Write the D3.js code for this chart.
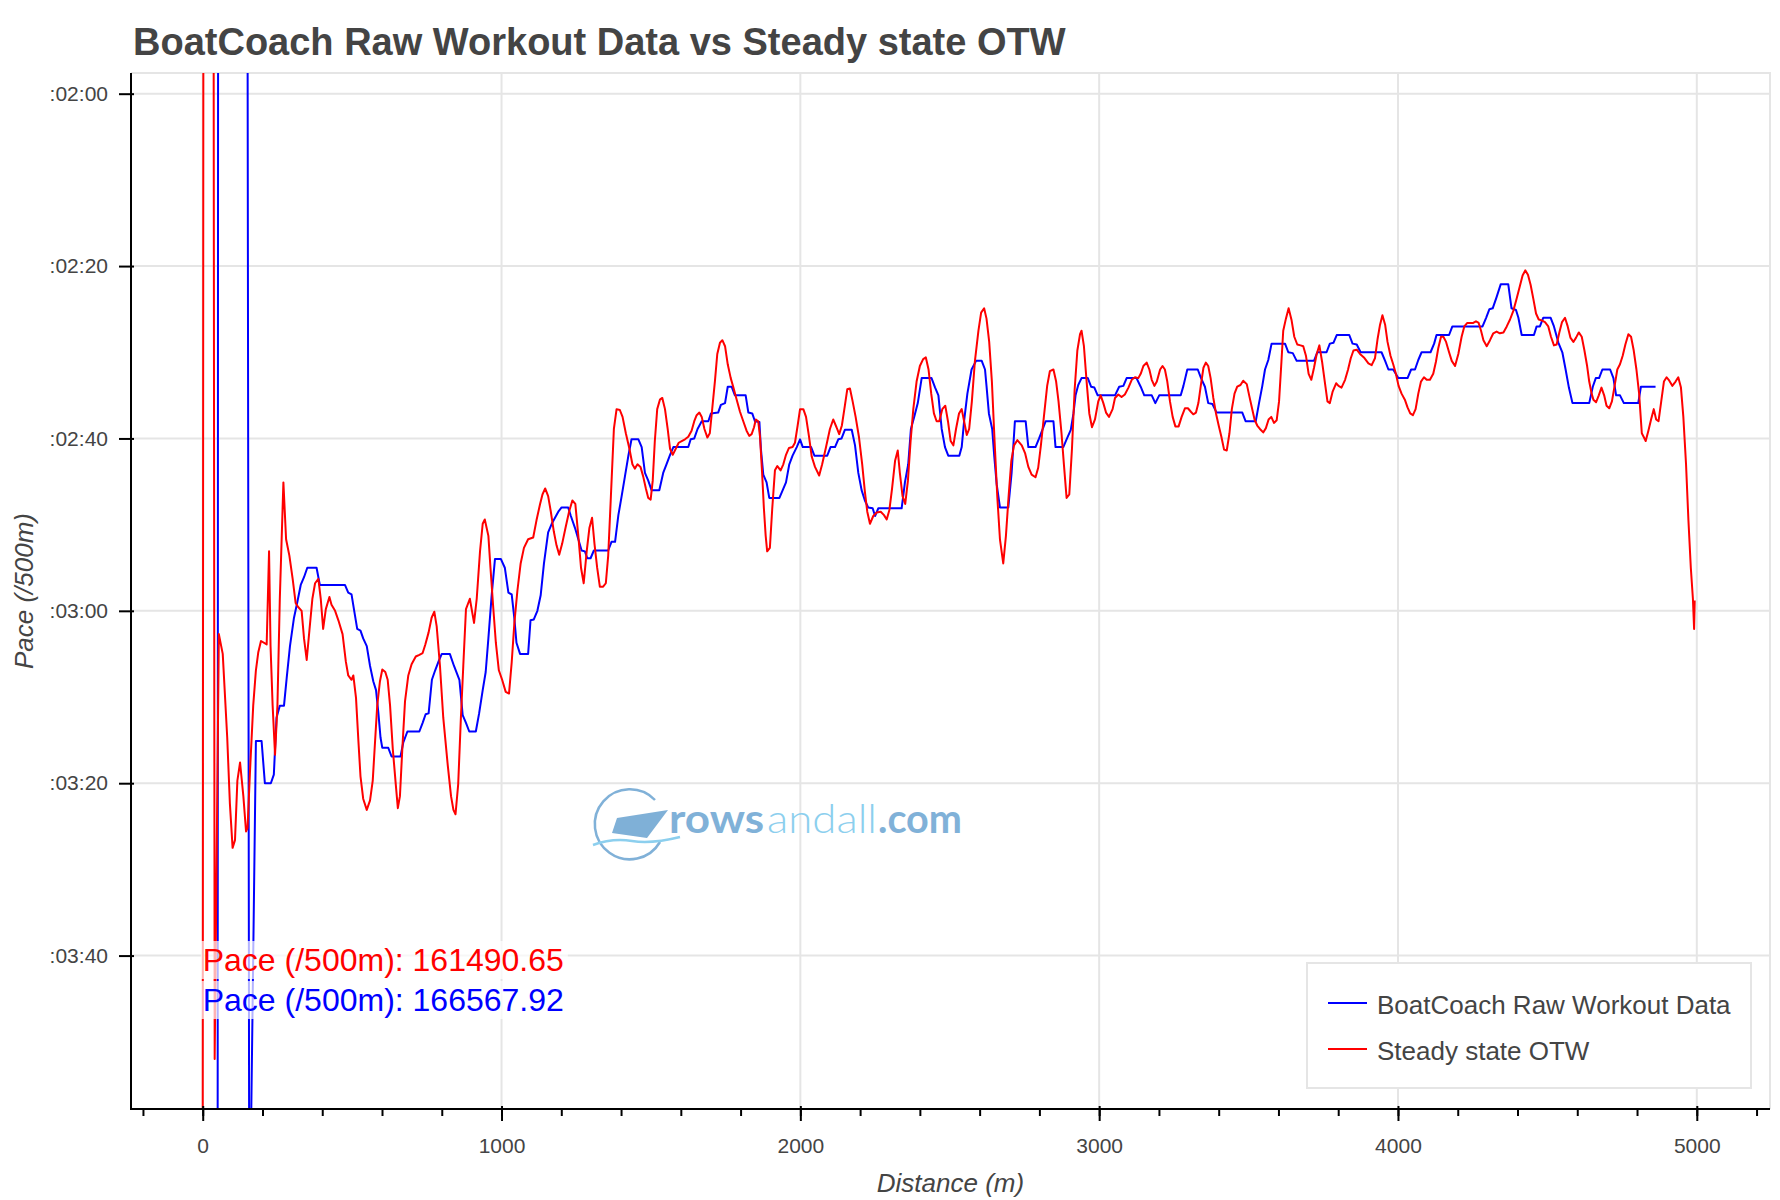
<!DOCTYPE html>
<html>
<head>
<meta charset="utf-8">
<script src="https://cdn.jsdelivr.net/npm/d3@7"></script>
<style>
  body { margin: 0; background: #fff; }
  text { font-family: "Liberation Sans", Arial, Helvetica, sans-serif; }
</style>
</head>
<body>
<svg id="chart" width="1780" height="1200"></svg>
<script>
var TITLE = "BoatCoach Raw Workout Data vs Steady state OTW";
var X_LABEL = "Distance (m)";
var Y_LABEL = "Pace (/500m)";
var SERIES_NAMES = ["BoatCoach Raw Workout Data", "Steady state OTW"];
var SERIES_COLORS = ["blue", "red"];
var HOVER_TEXTS = ["Pace (/500m): 161490.65", "Pace (/500m): 166567.92"];

var xTicks = [0, 1000, 2000, 3000, 4000, 5000];
var yTicks = [120, 140, 160, 180, 200, 220];

// Steady state OTW (red) - distance in m, pace in s/500m (first points are off the chart)
var redDist = [0, 3, 35, 40, 54, 67, 82, 91, 100, 108, 116, 125, 136, 145, 150, 158, 169, 178, 186, 195,
  214, 222, 227, 234, 242, 250, 258, 270, 279, 290, 301, 311, 318, 331, 339, 348, 357, 367, 376, 387,
  395, 403, 412, 424, 431, 443, 454, 468, 479, 487, 498, 504, 513, 521, 528, 537, 549, 560, 569, 576,
  584, 593, 601, 611, 619, 627, 636, 646, 653, 660, 668, 677, 688, 699, 713, 725, 736, 745, 756, 766,
  775, 783, 794, 805, 820, 831, 839, 846, 855, 864, 872, 881, 894, 908, 917, 928, 937, 944, 956, 963,
  972, 981, 991, 1002, 1014, 1025, 1034, 1043, 1053, 1064, 1075, 1089, 1106, 1117, 1129, 1137, 1146, 1156, 1165, 1175,
  1184, 1193, 1203, 1214, 1226, 1237, 1247, 1257, 1266, 1275, 1285, 1294, 1303, 1311, 1320, 1329, 1340, 1349, 1357, 1366,
  1376, 1385, 1396, 1405, 1416, 1428, 1438, 1446, 1455, 1465, 1474, 1483, 1491, 1499, 1506, 1513, 1521, 1530, 1538, 1547,
  1556, 1564, 1573, 1583, 1593, 1603, 1614, 1625, 1636, 1645, 1653, 1662, 1670, 1679, 1689, 1697, 1705, 1714, 1722, 1731,
  1739, 1748, 1757, 1767, 1776, 1787, 1798, 1809, 1820, 1829, 1837, 1845, 1851, 1859, 1865, 1872, 1878, 1884, 1889, 1898,
  1906, 1915, 1923, 1934, 1943, 1952, 1962, 1974, 1982, 1991, 1999, 2010, 2019, 2029, 2038, 2049, 2063, 2073, 2086, 2099,
  2110, 2121, 2130, 2139, 2149, 2157, 2166, 2175, 2185, 2196, 2207, 2216, 2224, 2233, 2244, 2255, 2269, 2280, 2289, 2298,
  2307, 2317, 2326, 2333, 2342, 2351, 2360, 2369, 2378, 2389, 2400, 2411, 2420, 2429, 2438, 2447, 2456, 2465, 2475, 2485,
  2494, 2503, 2512, 2521, 2531, 2540, 2548, 2557, 2565, 2574, 2584, 2596, 2605, 2615, 2623, 2632, 2641, 2650, 2659, 2668,
  2679, 2688, 2697, 2706, 2715, 2726, 2741, 2752, 2763, 2774, 2787, 2796, 2805, 2815, 2826, 2835, 2847, 2856, 2864, 2874,
  2882, 2891, 2900, 2909, 2918, 2927, 2936, 2941, 2949, 2958, 2967, 2976, 2986, 2997, 3005, 3014, 3023, 3033, 3045, 3053,
  3064, 3075, 3086, 3098, 3109, 3120, 3131, 3139, 3148, 3159, 3168, 3176, 3185, 3193, 3204, 3212, 3220, 3228, 3237, 3246,
  3255, 3266, 3276, 3287, 3297, 3307, 3315, 3324, 3332, 3340, 3349, 3357, 3365, 3373, 3382, 3391, 3400, 3409, 3418, 3427,
  3436, 3444, 3453, 3462, 3473, 3482, 3494, 3502, 3511, 3520, 3529, 3538, 3549, 3558, 3567, 3576, 3585, 3594, 3602, 3610,
  3616, 3625, 3634, 3644, 3653, 3663, 3674, 3683, 3692, 3701, 3710, 3719, 3728, 3737, 3746, 3755, 3764, 3772, 3781, 3793,
  3801, 3811, 3823, 3833, 3842, 3851, 3862, 3873, 3886, 3901, 3912, 3923, 3932, 3940, 3948, 3957, 3965, 3975, 3984, 3993,
  4002, 4012, 4023, 4032, 4041, 4050, 4059, 4068, 4077, 4087, 4096, 4107, 4118, 4127, 4135, 4144, 4152, 4161, 4171, 4180,
  4191, 4202, 4213, 4222, 4232, 4243, 4252, 4261, 4270, 4278, 4286, 4297, 4308, 4319, 4330, 4341, 4353, 4364, 4375, 4386,
  4397, 4408, 4417, 4426, 4435, 4444, 4453, 4462, 4471, 4481, 4492, 4503, 4512, 4522, 4531, 4540, 4549, 4559, 4568, 4577,
  4587, 4596, 4605, 4615, 4624, 4633, 4640, 4648, 4654, 4663, 4672, 4681, 4690, 4698, 4707, 4716, 4725, 4734, 4743, 4752,
  4761, 4771, 4780, 4789, 4798, 4807, 4816, 4822, 4829, 4838, 4847, 4856, 4864, 4872, 4881, 4890, 4899, 4908, 4918, 4929,
  4938, 4947, 4955, 4964, 4972, 4980, 4987, 4991, 4993];
var redPace = [245, 60, 60, 232, 182.7, 185.0, 194.7, 202.4, 207.5, 206.6, 199.7, 197.6, 201.5, 205.6, 205.2, 198.8, 191.0, 186.9, 184.8, 183.5,
  183.9, 173.1, 184.1, 191.0, 196.7, 191.0, 178.6, 165.1, 171.7, 173.6, 176.3, 179.1, 179.5, 180.0, 183.2, 185.7, 182.3, 178.6, 176.8, 176.3,
  178.6, 182.1, 179.8, 178.4, 179.3, 180.0, 181.1, 182.7, 185.9, 187.5, 188.0, 187.5, 190.1, 195.1, 199.2, 201.8, 203.1, 202.0, 199.7, 195.6,
  191.0, 188.2, 186.8, 187.1, 188.0, 191.0, 196.0, 200.1, 202.9, 201.5, 196.0, 190.5, 187.5, 186.2, 185.3, 185.1, 184.9, 183.9, 182.5, 180.8,
  180.1, 181.8, 186.4, 192.4, 197.9, 201.5, 203.1, 203.6, 200.1, 192.4, 186.4, 179.8, 178.6, 181.4, 178.6, 173.1, 169.9, 169.4, 171.3, 175.0,
  179.5, 183.7, 186.9, 188.0, 189.4, 189.6, 186.0, 181.4, 177.7, 174.5, 172.7, 171.7, 171.5, 169.5, 167.6, 166.5, 165.8, 166.7, 168.5, 170.8,
  172.4, 173.5, 172.2, 170.4, 168.5, 167.2, 167.6, 171.3, 175.0, 176.8, 173.1, 170.4, 169.2, 172.2, 175.0, 177.2, 177.2, 176.8, 173.6, 166.7,
  158.9, 156.6, 156.7, 157.5, 159.4, 161.2, 163.0, 163.5, 163.0, 163.3, 164.4, 165.8, 166.9, 167.1, 164.9, 160.3, 156.6, 155.5, 155.3, 156.6,
  158.9, 161.2, 161.9, 161.2, 160.5, 160.3, 160.1, 159.8, 159.1, 158.0, 157.3, 157.0, 157.5, 158.9, 159.9, 159.4, 156.6, 153.4, 150.2, 148.9,
  148.6, 149.3, 151.4, 153.0, 154.1, 155.5, 156.9, 158.0, 159.1, 159.7, 159.5, 158.7, 157.8, 158.0, 159.8, 164.0, 168.1, 171.3, 173.1, 172.7,
  168.1, 163.7, 163.2, 163.7, 163.0, 161.9, 161.1, 161.0, 160.5, 158.5, 156.6, 156.6, 157.5, 159.8, 162.1, 163.3, 164.3, 163.0, 161.0, 158.9,
  157.8, 158.7, 159.5, 158.5, 156.2, 154.3, 154.2, 155.7, 157.5, 159.8, 163.0, 166.2, 168.5, 169.9, 169.0, 168.6, 168.5, 168.9, 169.4, 168.3,
  165.8, 162.6, 161.4, 164.0, 166.7, 167.6, 164.9, 160.3, 156.6, 153.4, 151.6, 150.8, 150.6, 152.0, 154.8, 157.1, 158.0, 158.0, 156.6, 156.2,
  158.0, 160.3, 160.8, 158.9, 157.1, 156.6, 158.0, 159.6, 158.9, 155.7, 151.1, 147.5, 145.4, 144.9, 146.1, 148.8, 153.4, 160.3, 166.7, 171.7,
  174.5, 171.3, 166.7, 162.6, 160.8, 160.2, 160.8, 161.7, 163.3, 164.2, 164.5, 163.4, 160.8, 157.5, 153.9, 152.2, 152.0, 153.4, 155.7, 159.4,
  163.0, 166.9, 166.5, 161.2, 154.3, 149.8, 147.9, 147.5, 149.3, 153.4, 157.1, 158.7, 157.8, 155.7, 155.0, 155.9, 157.0, 157.5, 156.6, 155.3,
  154.9, 155.2, 154.9, 154.1, 153.2, 152.9, 153.0, 152.5, 151.6, 151.2, 152.0, 153.2, 153.9, 153.4, 152.0, 151.6, 152.0, 153.4, 155.7, 157.5,
  158.6, 158.6, 157.5, 156.5, 156.5, 156.9, 157.2, 157.0, 155.9, 153.9, 151.8, 151.2, 151.6, 153.0, 155.3, 157.1, 158.5, 159.8, 161.3, 161.4,
  159.4, 156.6, 154.8, 154.0, 153.8, 153.3, 153.7, 155.0, 156.4, 157.8, 158.5, 158.9, 159.3, 158.8, 157.8, 157.5, 158.2, 157.9, 155.7, 151.1,
  147.5, 146.1, 144.9, 146.3, 148.2, 149.1, 149.2, 149.3, 150.4, 152.5, 153.2, 151.8, 150.2, 149.2, 151.1, 153.4, 155.7, 155.9, 154.6, 153.6,
  153.9, 154.1, 153.2, 152.0, 150.7, 149.8, 149.7, 150.2, 150.6, 151.3, 151.5, 150.7, 148.4, 146.8, 145.7, 146.8, 148.8, 150.4, 151.4, 152.5,
  153.9, 154.8, 155.5, 156.4, 157.1, 157.3, 156.6, 154.8, 153.4, 152.9, 153.2, 153.2, 152.5, 151.1, 149.5, 148.2, 148.2, 148.8, 150.0, 151.0,
  151.6, 150.2, 148.2, 147.0, 146.6, 146.6, 146.6, 146.4, 146.6, 147.5, 148.6, 149.3, 148.6, 147.8, 147.6, 147.8, 147.7, 147.0, 146.2, 145.2,
  143.8, 142.3, 141.1, 140.5, 141.0, 142.2, 143.8, 145.5, 146.2, 146.3, 146.5, 147.0, 148.2, 149.2, 149.1, 147.7, 146.5, 146.0, 147.0, 148.3,
  148.8, 148.3, 147.7, 148.2, 149.8, 151.6, 153.4, 154.8, 155.5, 155.8, 155.0, 154.1, 155.0, 156.2, 156.5, 155.7, 153.9, 152.0, 151.4, 150.4,
  149.1, 147.9, 148.2, 149.8, 152.0, 154.8, 159.4, 159.8, 160.3, 159.1, 157.8, 156.6, 157.8, 158.0, 155.7, 153.4, 152.9, 153.3, 153.9, 153.4,
  152.9, 154.1, 157.5, 163.0, 169.5, 175.0, 178.6, 182.1, 178.8];

// BoatCoach Raw Workout Data (blue) - stepped raw pace
var blueDist = [50, 52, 148, 155.5, 160, 178, 197, 208, 228, 238, 247, 258, 272, 281, 292, 305, 316, 328, 339, 350,
  381, 392, 476, 487, 498, 507, 517, 528, 537, 549, 560, 571, 580, 588, 595, 601, 621, 632, 662, 671,
  685, 725, 736, 746, 756, 767, 778, 789, 800, 827, 841, 859, 870, 881, 892, 914, 925, 937, 947, 956,
  967, 978, 998, 1011, 1023, 1034, 1043, 1050, 1062, 1089, 1097, 1108, 1120, 1131, 1142, 1156, 1168, 1179, 1190, 1201,
  1223, 1232, 1246, 1257, 1268, 1279, 1287, 1298, 1309, 1357, 1368, 1380, 1391, 1402, 1413, 1424, 1435, 1458, 1469, 1480,
  1491, 1502, 1528, 1541, 1552, 1564, 1575, 1625, 1633, 1645, 1656, 1670, 1692, 1701, 1725, 1734, 1748, 1757, 1770, 1781,
  1817, 1826, 1839, 1848, 1863, 1868, 1876, 1887, 1896, 1930, 1941, 1952, 1963, 1974, 1988, 1999, 2008, 2036, 2047, 2090,
  2101, 2116, 2127, 2138, 2149, 2172, 2183, 2194, 2205, 2216, 2227, 2242, 2250, 2261, 2339, 2350, 2361, 2370, 2381, 2393,
  2406, 2439, 2451, 2462, 2473, 2484, 2495, 2532, 2540, 2548, 2559, 2573, 2588, 2607, 2618, 2623, 2631, 2642, 2649, 2657,
  2668, 2696, 2707, 2718, 2754, 2763, 2787, 2799, 2810, 2821, 2847, 2854, 2880, 2891, 2905, 2914, 2921, 2930, 2941, 2962,
  2973, 2984, 2995, 3053, 3067, 3081, 3092, 3125, 3139, 3151, 3176, 3188, 3201, 3273, 3282, 3295, 3330, 3341, 3354, 3365,
  3379, 3393, 3479, 3490, 3524, 3535, 3546, 3555, 3566, 3577, 3622, 3633, 3648, 3661, 3719, 3730, 3761, 3772, 3784, 3795,
  3837, 3848, 3862, 3875, 3945, 3957, 3968, 3984, 4001, 4032, 4044, 4057, 4068, 4079, 4109, 4121, 4129, 4171, 4182, 4283,
  4295, 4306, 4317, 4330, 4344, 4369, 4380, 4395, 4403, 4414, 4455, 4464, 4475, 4486, 4511, 4522, 4537, 4550, 4561, 4572,
  4584, 4640, 4652, 4662, 4673, 4684, 4710, 4721, 4730, 4743, 4756, 4804, 4813, 4862];
var bluePace = [245, 60, 60, 245, 245, 195.1, 195.1, 200.0, 200.0, 199.0, 192.4, 191.0, 191.0, 187.8, 184.1, 180.9, 179.1, 177.0, 176.1, 175.0,
  175.0, 177.0, 177.0, 177.9, 178.1, 180.0, 182.1, 182.3, 183.2, 184.1, 186.4, 188.2, 189.2, 191.9, 194.7, 195.9, 195.9, 196.9, 196.9, 195.3,
  194.0, 194.0, 193.0, 192.0, 191.9, 188.0, 186.9, 185.9, 185.0, 185.0, 186.4, 188.0, 192.1, 193.0, 194.0, 194.0, 191.9, 189.2, 187.1, 183.2,
  178.2, 174.0, 174.0, 175.0, 177.9, 178.1, 180.9, 183.7, 185.0, 185.0, 181.1, 181.0, 180.0, 178.2, 174.5, 170.9, 169.9, 169.2, 168.5, 168.0,
  168.0, 169.0, 170.4, 171.7, 173.0, 173.1, 173.9, 173.9, 173.0, 173.0, 172.0, 172.0, 168.9, 166.7, 164.4, 162.1, 160.1, 160.1, 161.0, 164.0,
  164.9, 166.0, 166.0, 164.0, 163.0, 161.9, 161.0, 161.0, 160.1, 160.0, 158.9, 158.0, 158.0, 157.1, 157.0, 156.1, 155.9, 154.0, 154.0, 155.0,
  155.0, 157.0, 157.1, 158.0, 158.1, 161.2, 164.2, 165.1, 166.9, 166.9, 166.0, 165.1, 163.0, 162.0, 161.0, 160.1, 161.0, 161.0, 162.0, 162.0,
  161.0, 161.0, 160.1, 160.0, 159.0, 159.0, 160.8, 164.0, 166.0, 167.2, 168.0, 168.1, 169.0, 168.1, 168.1, 165.1, 163.0, 158.9, 157.5, 155.9,
  153.0, 153.0, 154.1, 155.0, 158.9, 161.0, 162.0, 162.0, 161.0, 158.0, 154.8, 152.0, 151.0, 151.0, 152.0, 153.9, 157.1, 158.9, 162.1, 165.3,
  168.0, 168.0, 164.0, 158.0, 158.0, 161.0, 161.0, 160.0, 159.0, 158.0, 158.0, 161.0, 161.0, 160.1, 159.0, 157.1, 155.0, 153.8, 153.0, 153.0,
  154.0, 154.1, 155.0, 155.0, 154.0, 153.9, 153.0, 153.0, 154.0, 155.0, 155.0, 155.9, 155.0, 155.0, 153.9, 152.0, 152.0, 153.0, 154.0, 155.9,
  156.0, 157.0, 157.0, 158.0, 158.0, 155.9, 153.9, 152.0, 150.9, 149.0, 149.0, 150.0, 150.1, 151.0, 151.0, 150.0, 150.0, 149.0, 148.9, 148.0,
  148.0, 149.0, 149.1, 150.0, 150.0, 151.0, 152.0, 152.0, 153.0, 153.0, 152.0, 152.0, 150.9, 150.0, 150.0, 149.0, 148.0, 148.0, 147.0, 147.0,
  146.0, 145.0, 144.9, 143.6, 142.1, 142.1, 144.9, 145.1, 146.0, 148.0, 148.0, 147.0, 147.0, 146.0, 146.0, 147.0, 148.9, 150.0, 152.0, 154.1,
  155.9, 155.9, 154.0, 153.0, 153.0, 152.0, 152.0, 153.0, 155.0, 155.0, 155.9, 155.9, 154.0, 154.0];

var width = 1780;
var height = 1200;
var plot = { left: 131, right: 1770, top: 73, bottom: 1109 };

var svg = d3.select("#chart");

var x = d3.scaleLinear().domain([-240, 5245]).range([plot.left, plot.right]);
var y = d3.scaleLinear().domain([117.6, 237.8]).range([plot.top, plot.bottom]);

function paceFormat(s) {
	var m = Math.floor(s / 60);
	var sec = Math.round(s - m * 60);
	return ":" + d3.format("02d")(m) + ":" + d3.format("02d")(sec);
}

svg.append("rect").attr("width", width).attr("height", height).attr("fill", "#fff");

// title
svg.append("text")
	.attr("x", 133)
	.attr("y", 55)
	.attr("font-size", 38)
	.attr("font-weight", "bold")
	.attr("fill", "#444")
	.text(TITLE);

// grid
var grid = svg.append("g").attr("stroke", "#e5e5e5").attr("stroke-width", 2);
grid.selectAll(".gx").data(xTicks).enter().append("line")
	.attr("x1", function (d) { return x(d); })
	.attr("x2", function (d) { return x(d); })
	.attr("y1", plot.top).attr("y2", plot.bottom);
grid.selectAll(".gy").data(yTicks).enter().append("line")
	.attr("x1", plot.left).attr("x2", plot.right)
	.attr("y1", function (d) { return y(d); })
	.attr("y2", function (d) { return y(d); });

// outline (top and right)
svg.append("path")
	.attr("d", "M" + plot.left + "," + plot.top + "H" + plot.right + "V" + plot.bottom)
	.attr("fill", "none")
	.attr("stroke", "#e5e5e5")
	.attr("stroke-width", 2);

// watermark
var wm = svg.append("g").attr("opacity", 0.95);
wm.append("path")
	.attr("d", "M655,800 A35,35 0 1 0 660,842")
	.attr("fill", "none")
	.attr("stroke", "#7aadd6")
	.attr("stroke-width", 2.5);
wm.append("path")
	.attr("d", "M617,818 L668,810 L647,838 L612,833 Z")
	.attr("fill", "#79acd5");
wm.append("path")
	.attr("d", "M593,845 Q612,838 632,841 T680,837")
	.attr("fill", "none")
	.attr("stroke", "#86cdee")
	.attr("stroke-width", 2.5);
wm.append("text").attr("x", 669).attr("y", 833)
	.attr("font-size", 40).attr("font-weight", "bold").attr("fill", "#7aadd6")
	.attr("textLength", 95).attr("lengthAdjust", "spacingAndGlyphs")
	.style("font-family", "Lato, 'Open Sans', sans-serif")
	.text("rows");
wm.append("text").attr("x", 767).attr("y", 833)
	.attr("font-size", 40).attr("font-weight", 300).attr("fill", "#86cdee")
	.attr("textLength", 110).attr("lengthAdjust", "spacingAndGlyphs")
	.style("font-family", "Lato, 'Open Sans', sans-serif")
	.text("andall");
wm.append("text").attr("x", 878).attr("y", 833)
	.attr("font-size", 40).attr("font-weight", "bold").attr("fill", "#7aadd6")
	.attr("textLength", 84).attr("lengthAdjust", "spacingAndGlyphs")
	.style("font-family", "Lato, 'Open Sans', sans-serif")
	.text(".com");

// lines
svg.append("clipPath").attr("id", "plotclip")
	.append("rect")
	.attr("x", plot.left).attr("y", plot.top)
	.attr("width", plot.right - plot.left).attr("height", plot.bottom - plot.top);

var line = d3.line()
	.x(function (d) { return x(d[0]); })
	.y(function (d) { return y(d[1]); });

var blueData = d3.zip(blueDist, bluePace);
var redData = d3.zip(redDist, redPace);

var lines = svg.append("g").attr("clip-path", "url(#plotclip)");
lines.append("path").datum(blueData)
	.attr("d", line).attr("fill", "none")
	.attr("stroke", SERIES_COLORS[0]).attr("stroke-width", 2).attr("stroke-linejoin", "round");
lines.append("path").datum(redData)
	.attr("d", line).attr("fill", "none")
	.attr("stroke", SERIES_COLORS[1]).attr("stroke-width", 2).attr("stroke-linejoin", "round");

// hover labels
var hoverColors = ["red", "blue"];
var hoverY = [971, 1011];
HOVER_TEXTS.forEach(function (t, i) {
	var g = svg.append("g");
	var bg = g.append("rect");
	var tx = g.append("text")
		.attr("x", x(0))
		.attr("y", hoverY[i])
		.attr("font-size", 32)
		.attr("fill", hoverColors[i])
		.text(t);
	var bb = tx.node().getBBox();
	bg.attr("x", bb.x - 2).attr("y", bb.y - 1)
		.attr("width", bb.width + 6).attr("height", bb.height + 2)
		.attr("fill", "#fff").attr("fill-opacity", 0.7);
});

// x axis
var xMinor = svg.append("g")
	.attr("transform", "translate(0," + plot.bottom + ")")
	.call(d3.axisBottom(x).tickValues(d3.range(-200, 5201, 200)).tickSize(7).tickFormat(""));
xMinor.select(".domain").remove();
xMinor.selectAll(".tick line").attr("stroke", "#000").attr("stroke-width", 2);

var xAxis = svg.append("g")
	.attr("transform", "translate(0," + plot.bottom + ")")
	.call(d3.axisBottom(x).tickValues(xTicks).tickSize(12).tickSizeOuter(0).tickPadding(17).tickFormat(d3.format("d")));
xAxis.select(".domain").remove();
xAxis.selectAll(".tick line").attr("y1", -3).attr("stroke", "#000").attr("stroke-width", 2);
xAxis.selectAll(".tick text")
	.attr("font-size", 21)
	.attr("fill", "#444")
	.style("font-family", "'Liberation Sans', Arial, sans-serif");

// y axis
var yAxis = svg.append("g")
	.attr("transform", "translate(" + plot.left + ",0)")
	.call(d3.axisLeft(y).tickValues(yTicks).tickSize(12).tickSizeOuter(0).tickPadding(11).tickFormat(paceFormat));
yAxis.select(".domain").remove();
yAxis.selectAll(".tick line").attr("x1", 3).attr("stroke", "#000").attr("stroke-width", 2);
yAxis.selectAll(".tick text")
	.attr("font-size", 21)
	.attr("fill", "#444")
	.style("font-family", "'Liberation Sans', Arial, sans-serif");

// axis lines
svg.append("line")
	.attr("x1", plot.left - 1).attr("x2", plot.right)
	.attr("y1", plot.bottom).attr("y2", plot.bottom)
	.attr("stroke", "#000").attr("stroke-width", 2);
svg.append("line")
	.attr("x1", plot.left).attr("x2", plot.left)
	.attr("y1", plot.top).attr("y2", plot.bottom + 1)
	.attr("stroke", "#000").attr("stroke-width", 2);

// axis labels
svg.append("text")
	.attr("x", (plot.left + plot.right) / 2)
	.attr("y", 1192)
	.attr("text-anchor", "middle")
	.attr("font-size", 26)
	.attr("font-style", "italic")
	.attr("fill", "#444")
	.text(X_LABEL);
svg.append("text")
	.attr("transform", "translate(33," + (plot.top + plot.bottom) / 2 + ") rotate(-90)")
	.attr("text-anchor", "middle")
	.attr("font-size", 26)
	.attr("font-style", "italic")
	.attr("fill", "#444")
	.text(Y_LABEL);

// legend
var legend = svg.append("g");
legend.append("rect")
	.attr("x", 1307).attr("y", 963)
	.attr("width", 444).attr("height", 125)
	.attr("fill", "#fff")
	.attr("stroke", "#e5e5e5").attr("stroke-width", 2);
var legendY = [1003, 1049];
SERIES_NAMES.forEach(function (name, i) {
	legend.append("line")
		.attr("x1", 1328).attr("x2", 1367)
		.attr("y1", legendY[i]).attr("y2", legendY[i])
		.attr("stroke", SERIES_COLORS[i]).attr("stroke-width", 2);
	legend.append("text")
		.attr("x", 1377).attr("y", legendY[i] + 11)
		.attr("font-size", 26)
		.attr("fill", "#444")
		.text(name);
});
</script>
</body>
</html>
